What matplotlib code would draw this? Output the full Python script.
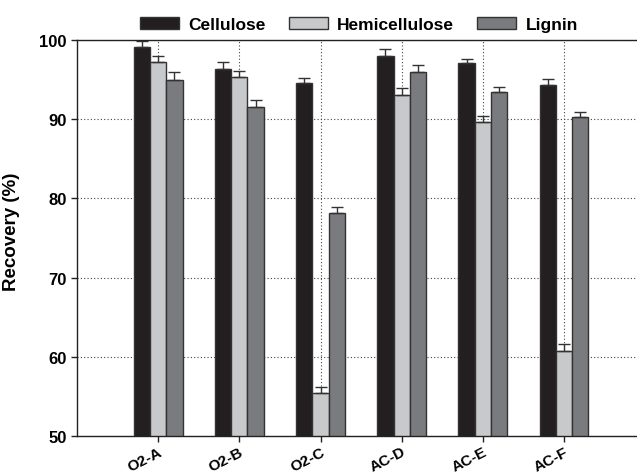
import numpy as np
import matplotlib
matplotlib.use("Agg")
import matplotlib.pyplot as plt

# --------------------------------
# data
# --------------------------------
samples = ["O2-A", "O2-B", "O2-C", "AC-D", "AC-E", "AC-F"]
cellulose = [99.1, 96.3, 94.6, 98.0, 97.1, 94.3]
cellulose_err = [0.8, 0.9, 0.6, 0.9, 0.55, 0.8]
hemicellulose = [97.25, 95.3, 55.4, 93.1, 89.6, 60.7]
hemicellulose_err = [0.75, 0.8, 0.8, 0.9, 0.8, 0.9]
lignin = [95.0, 91.6, 78.2, 96.0, 93.4, 90.25]
lignin_err = [0.9, 0.8, 0.7, 0.9, 0.65, 0.6]

plt.rcParams["font.family"] = ["Liberation Sans", "DejaVu Sans"]
plt.rcParams["font.weight"] = "bold"

fig = plt.figure(figsize=(6.37, 4.77), dpi=100)
ax = fig.add_axes([0.121, 0.084, 0.879, 0.830])

x = np.arange(len(samples))
w = 0.2
series = [
    ("Cellulose", cellulose, cellulose_err, "#231f20"),
    ("Hemicellulose", hemicellulose, hemicellulose_err, "#c8c9cb"),
    ("Lignin", lignin, lignin_err, "#7a7b7e"),
]
for i, (name, vals, errs, col) in enumerate(series):
    errs = np.array(errs)
    ax.bar(x + (i - 1) * w, vals, w, color=col, edgecolor="#333333",
           linewidth=1.0, label=name, zorder=2,
           yerr=[np.zeros_like(errs), errs],
           error_kw=dict(ecolor="#333333", elinewidth=1.0, capsize=4,
                         capthick=1.0))

ax.set_ylim(50, 100)
ax.set_xlim(-1.0, 5.9)
ax.set_yticks([50, 60, 70, 80, 90, 100])
ax.set_xticks(x)
ax.set_xticklabels(samples, rotation=27, ha="right", rotation_mode="anchor",
                   fontsize=11, fontweight="bold")
for lab in ax.get_yticklabels():
    lab.set_fontsize(12)
    lab.set_fontweight("bold")
ax.set_ylabel("Recovery (%)", fontsize=13.5, fontweight="bold")
ax.yaxis.set_label_coords(-0.102, 0.518)

ax.grid(True, linestyle=(0, (1, 2)), color="#444444", linewidth=0.8)
ax.set_axisbelow(True)
ax.spines["right"].set_visible(False)
for s in ["left", "bottom", "top"]:
    ax.spines[s].set_linewidth(1.0)
    ax.spines[s].set_color("#222222")
ax.tick_params(axis="both", direction="out", length=4, width=1, color="#222222")
ax.tick_params(axis="x", pad=2)

ax.legend(loc="center left", bbox_to_anchor=(0.1125, 1.04), ncol=3,
          frameon=False, prop=dict(size=12.5, weight="bold"),
          handlelength=2.25, handleheight=0.7, columnspacing=1.3,
          handletextpad=0.55, borderaxespad=0.0, borderpad=0.0)

fig.savefig("out.png", dpi=100)
